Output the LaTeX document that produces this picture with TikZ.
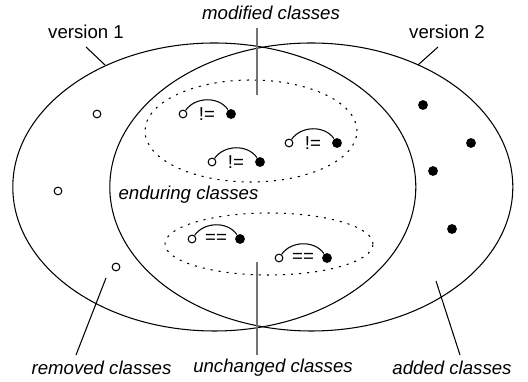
\documentclass[tikz,border=0pt]{standalone}
\usepackage{fontspec}
\setmainfont{Liberation Sans}

\tikzset{every picture/.style={line width=0.6pt}}
\tikzset{
    txt/.style={inner sep=0pt, font=\fontsize{10.6}{12.7}\selectfont},
    lbl/.style={txt, font=\fontsize{10.6}{12.7}\selectfont\itshape},
    cmp/.style={txt},
    oldcls/.style={circle, draw, fill=white, inner sep=0pt, minimum size=4.4pt},
    newcls/.style={circle, fill=black, inner sep=0pt, minimum size=5.6pt},
    group/.style={dash pattern={on 1.2pt off 3.4pt}},
    divider/.style={draw=black!55, line width=1pt}
}

\begin{document}
\begin{tikzpicture}[x=0.2cm, y=0.2cm]
    \useasboundingbox (0,0) rectangle (52.8,38.2);
    % old and new version
    \draw (21.43,19.5) ellipse (20.15 and 14.4);
    \draw (31.13,19.5) ellipse (20.15 and 14.4);
    % enduring classes, split in two groups
    \draw[group] (25.1,25.1) ellipse (10.6 and 5.1);
    \draw[group] (26.9,13.8) ellipse (10.4 and 3.1);

    \node[txt] (v1lbl) at (8.6,35.0) {version 1};
    \node[txt] (v2lbl) at (44.7,35.0) {version 2};
    \node[lbl] (modlbl) at (27.1,36.9) {modified classes};
    \node[lbl] (endlbl) at (18.85,18.7) {enduring classes};
    \node[lbl] (remlbl) at (10.15,1.4) {removed classes};
    \node[lbl] (unchlbl) at (27.3,1.4) {unchanged classes};
    \node[lbl] (addlbl) at (45.2,1.4) {added classes};

    % pointers
    \coordinate (v1a) at (8.6,33.5);   \coordinate (v1b) at (10.5,31.7);
    \coordinate (v2a) at (43.8,33.5);  \coordinate (v2b) at (41.8,31.7);
    \coordinate (rema) at (7.6,2.7);   \coordinate (remb) at (10.6,10.4);
    \coordinate (adda) at (46.0,2.7);  \coordinate (addb) at (43.6,10.1);
    \coordinate (moda) at (25.7,35.4); \coordinate (modb) at (25.7,28.7);
    \coordinate (uncha) at (25.7,2.7); \coordinate (unchb) at (25.7,12.0);
    \draw (v1a) -- (v1b);
    \draw (v2a) -- (v2b);
    \draw (rema) -- (remb);
    \draw (adda) -- (addb);
    \draw[divider] (moda) -- (modb);
    \draw[divider] (uncha) -- (unchb);

    % classes only in version 1 / version 2
    \node[oldcls] (r1) at (9.7,26.8) {};
    \node[oldcls] (r2) at (5.8,19.1) {};
    \node[oldcls] (r3) at (11.6,11.5) {};
    \node[newcls] (a1) at (42.3,27.7) {};
    \node[newcls] (a2) at (47.1,23.9) {};
    \node[newcls] (a3) at (43.3,21.1) {};
    \node[newcls] (a4) at (45.2,15.3) {};

    % pairs old -> new
    \foreach \n/\x/\y/\op in {m1/18.3/26.8/!=, m2/28.9/23.9/!=, m3/21.2/22.0/!=,
                              u1/19.2/14.3/==, u2/27.9/12.4/==} {
        \node[oldcls] (o\n) at (\x,\y) {};
        \node[cmp] (c\n) at (\x+2.4,\y) {\op};
        \node[newcls] (f\n) at (\x+4.8,\y) {};
        \draw (o\n) to[out=55,in=125] (f\n);
    }
\end{tikzpicture}
\end{document}
